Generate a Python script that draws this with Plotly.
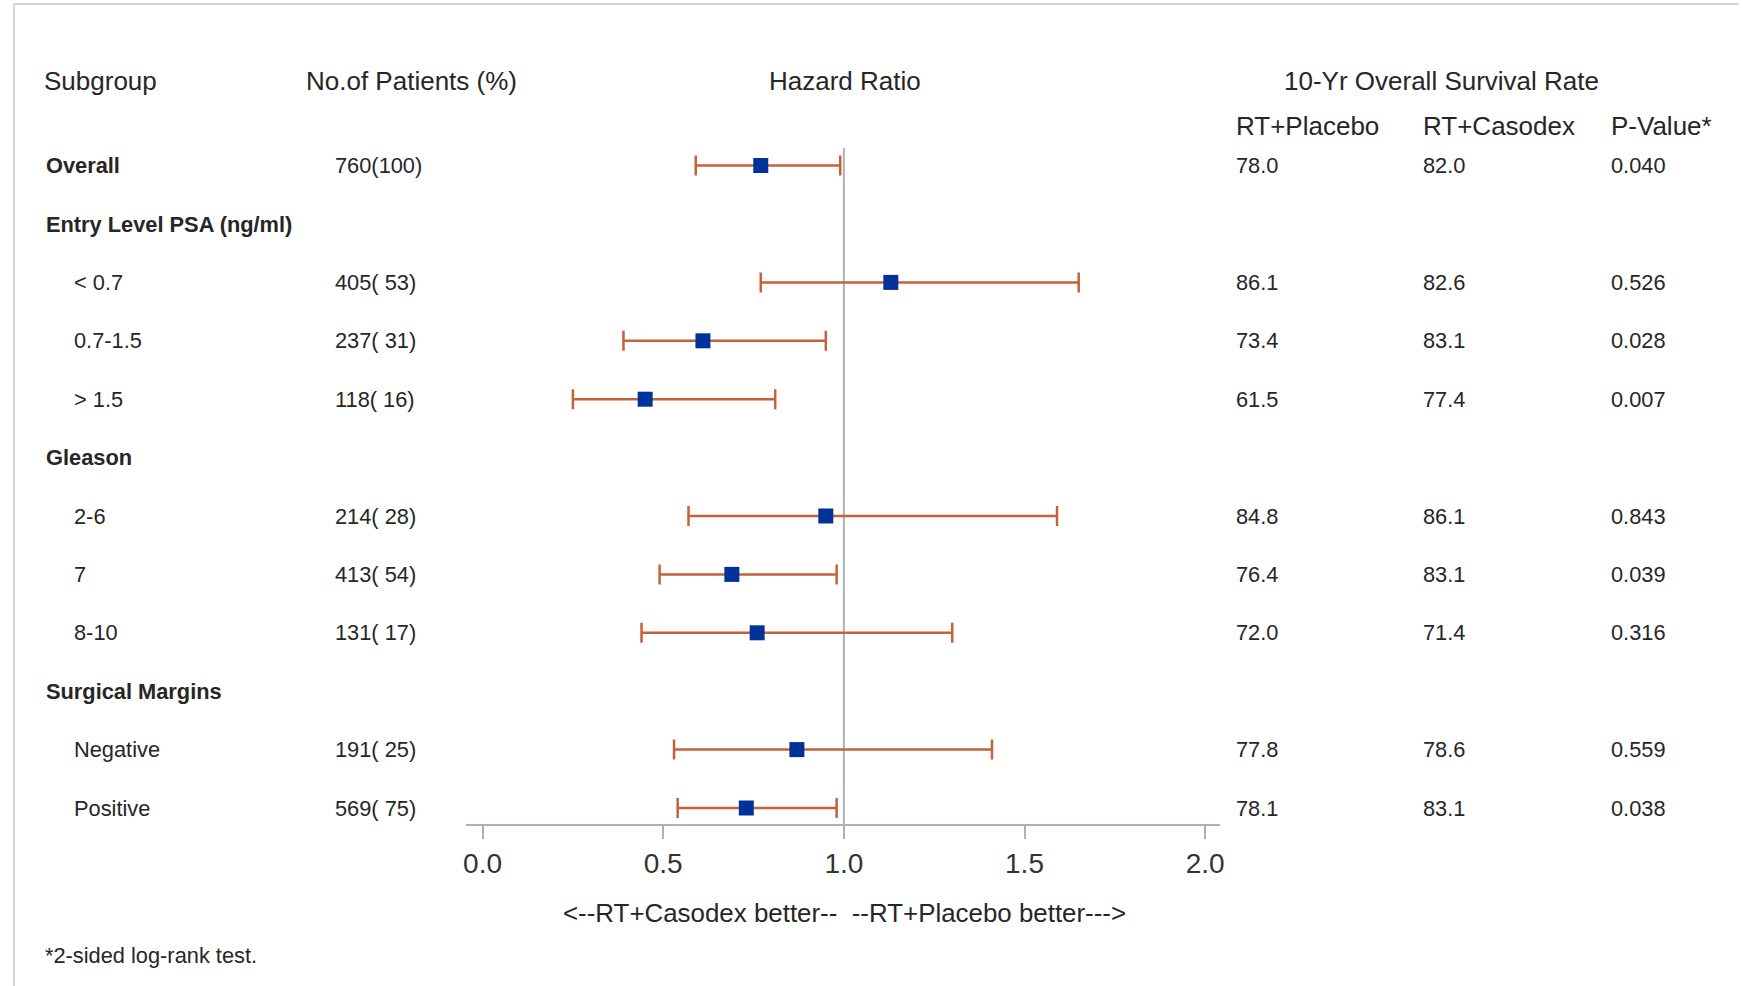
import plotly.graph_objects as go

# ---------------- data ----------------
subgroups = ["Overall", "Entry Level PSA (ng/ml)", "< 0.7", "0.7-1.5", "> 1.5",
             "Gleason", "2-6", "7", "8-10", "Surgical Margins", "Negative", "Positive"]
is_group = [True, True, False, False, False, True, False, False, False, True, False, False]
patients = [760, None, 405, 237, 118, None, 214, 413, 131, None, 191, 569]
patients_pct = [100, None, 53, 31, 16, None, 28, 54, 17, None, 25, 75]
hazard_ratio = [0.77, None, 1.13, 0.61, 0.45, None, 0.95, 0.69, 0.76, None, 0.87, 0.73]
ci_lower = [0.59, None, 0.77, 0.39, 0.25, None, 0.57, 0.49, 0.44, None, 0.53, 0.54]
ci_upper = [0.99, None, 1.65, 0.95, 0.81, None, 1.59, 0.98, 1.30, None, 1.41, 0.98]
rt_placebo = ["78.0", "", "86.1", "73.4", "61.5", "", "84.8", "76.4", "72.0", "", "77.8", "78.1"]
rt_casodex = ["82.0", "", "82.6", "83.1", "77.4", "", "86.1", "83.1", "71.4", "", "78.6", "83.1"]
p_values = ["0.040", "", "0.526", "0.028", "0.007", "", "0.843", "0.039", "0.316", "", "0.559", "0.038"]
tick_vals = [0.0, 0.5, 1.0, 1.5, 2.0]
tick_text = ["0.0", "0.5", "1.0", "1.5", "2.0"]

# ---------------- layout constants ----------------
W, H = 1743, 986
FONT = "Liberation Sans, Arial, Helvetica, sans-serif"
TXT = "#262626"
GRAY = "#aab2b2"
ORANGE = "#c4623a"
BLUE = "#003399"

def px(x):
    return x / W

def py(y):
    return 1 - y / H

# x-axis pixel mapping: 0.0 -> 481.5px, 2.0 -> 1207px
x0px, x2px = 481.5, 1207.0
ppu = (x2px - x0px) / 2.0
ax_left, ax_right = 465.0, 1222.0
# y mapping: row 0 at 165.6px, spacing 58.4px
row0, rstep = 165.6, 58.4
ax_bottom, ax_top = 824.0, 148.0

rows = list(range(len(subgroups)))
data_rows = [r for r in rows if hazard_ratio[r] is not None]

fig = go.Figure()
fig.add_trace(go.Scatter(
    x=[hazard_ratio[r] for r in data_rows],
    y=data_rows,
    mode="markers",
    marker=dict(symbol="square", size=15, color=BLUE, line=dict(width=0)),
    error_x=dict(type="data", symmetric=False,
                 array=[ci_upper[r] - hazard_ratio[r] for r in data_rows],
                 arrayminus=[hazard_ratio[r] - ci_lower[r] for r in data_rows],
                 color=ORANGE, thickness=2.5, width=10),
    showlegend=False, hoverinfo="skip",
))

ann = []

def add(text, x, y, size, anchor="left", bold=False, yref="paper", color=TXT):
    ann.append(dict(text=f"<b>{text}</b>" if bold else text, x=x, y=y, xref="paper", yref=yref,
                    xanchor=anchor, yanchor="middle", showarrow=False,
                    font=dict(family=FONT, size=size, color=color),
                    borderpad=0, borderwidth=0))

HS = 26
RS = 21.8
# headers
add("Subgroup", px(41), py(80.5), HS)
add("No.of Patients (%)", px(304), py(80.5), HS)
add("Hazard Ratio", px(845), py(80.5), HS, anchor="center")
add("10-Yr Overall Survival Rate", px(1444), py(80.5), HS, anchor="center")
add("RT+Placebo", px(1238), py(125.5), HS)
add("RT+Casodex", px(1426), py(125.5), HS)
add("P-Value*", px(1614), py(125.5), HS)

for r in rows:
    if is_group[r]:
        add(subgroups[r], px(43), r, RS, bold=True, yref="y")
    else:
        add(subgroups[r], px(71), r, RS, yref="y")
    if patients[r] is not None:
        pct = patients_pct[r]
        pct_s = f"{pct}" if pct >= 100 else f" {pct}"
        add(f"{patients[r]}({pct_s})", px(333), r, RS, yref="y")
    if rt_placebo[r]:
        add(rt_placebo[r], px(1238), r, RS, yref="y")
    if rt_casodex[r]:
        add(rt_casodex[r], px(1426), r, RS, yref="y")
    if p_values[r]:
        add(p_values[r], px(1614), r, RS, yref="y")

add("&lt;--RT+Casodex better--&nbsp; --RT+Placebo better---&gt;", px(845), py(913), 25.9, anchor="center")
add("*2-sided log-rank test.", px(42), py(955), RS)

shapes = [
    dict(type="line", xref="x", yref="y domain", x0=1.0, x1=1.0, y0=0, y1=1,
         line=dict(color=GRAY, width=2), layer="below"),
    dict(type="line", xref="paper", yref="paper", x0=px(11), x1=1, y0=py(4), y1=py(4),
         line=dict(color="#d4d4d4", width=2)),
    dict(type="line", xref="paper", yref="paper", x0=px(11), x1=px(11), y0=py(4), y1=0,
         line=dict(color="#d4d4d4", width=2)),
]

fig.update_layout(
    width=W, height=H,
    margin=dict(l=0, r=0, t=0, b=0),
    paper_bgcolor="white", plot_bgcolor="white",
    annotations=ann, shapes=shapes,
    xaxis=dict(domain=[px(ax_left), px(ax_right)],
               range=[(ax_left - x0px) / ppu, (ax_right - x0px) / ppu],
               showgrid=False, zeroline=False, showline=True, linecolor=GRAY, linewidth=2,
               ticks="outside", ticklen=13, tickwidth=2, tickcolor=GRAY,
               tickvals=tick_vals, ticktext=tick_text,
               tickfont=dict(family=FONT, size=28, color="#333333"),
               fixedrange=True),
    yaxis=dict(domain=[py(ax_bottom), py(ax_top)],
               range=[(ax_bottom - row0) / rstep, (ax_top - row0) / rstep],
               visible=False, fixedrange=True),
)

fig.write_html("out.html")
